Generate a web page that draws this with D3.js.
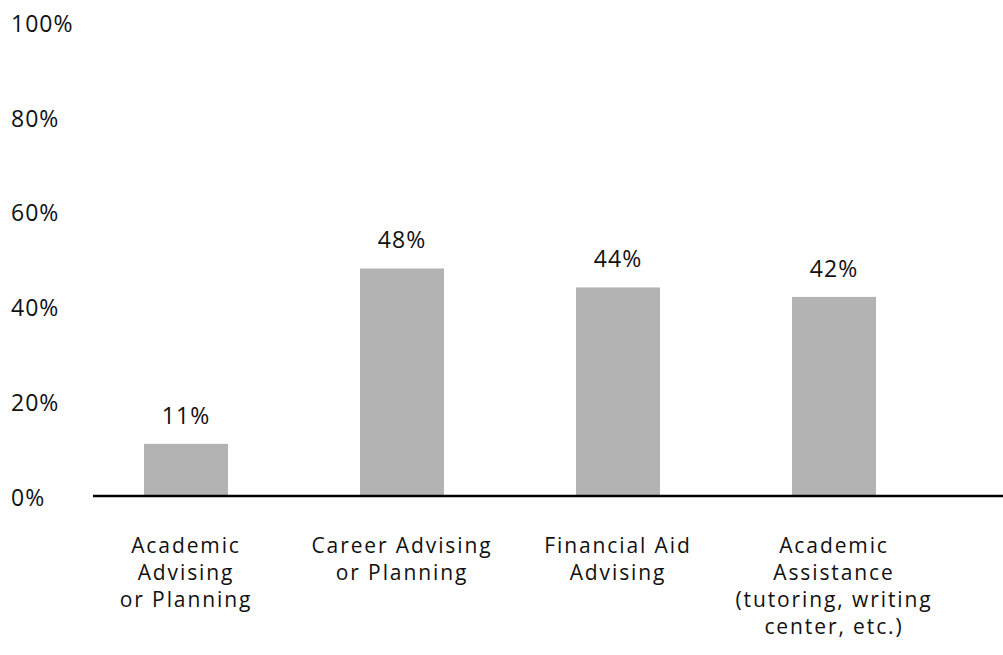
<!DOCTYPE html>
<html>
<head>
<meta charset="utf-8">
<script src="https://cdn.jsdelivr.net/npm/d3@7"></script>
<style>
  html, body { margin: 0; padding: 0; background: #fff; }
  svg text { font-family: "Open Sans", sans-serif; fill: #111; letter-spacing: 1px; }
  svg text.cat { letter-spacing: 1.9px; }
</style>
</head>
<body>
<svg id="chart" width="1003" height="655"></svg>
<script>
// Share of respondents by service type
const categories = [
  ["Academic", "Advising", "or Planning"],
  ["Career Advising", "or Planning"],
  ["Financial Aid", "Advising"],
  ["Academic", "Assistance", "(tutoring, writing", "center, etc.)"]
];
const values = [11, 48, 44, 42];
const tickValues = [0, 20, 40, 60, 80, 100];

const svg = d3.select("#chart");
const W = 1003, H = 655;
const fontSize = 23;
const catFontSize = 21;
const fontFamily = "'Open Sans', sans-serif";

const keys = categories.map((c, i) => i);
const x = d3.scaleBand()
  .domain(keys)
  .range([78, 942])
  .paddingInner(0.611)
  .paddingOuter(0.3055);

const y = d3.scaleLinear().domain([0, 100]).range([496, 22]);

// y-axis labels (no axis line, no ticks)
const yAxis = d3.axisLeft(y)
  .tickValues(tickValues)
  .tickFormat(d => d + "%")
  .tickSize(0)
  .tickPadding(0);
const gy = svg.append("g").attr("transform", "translate(11,2)").call(yAxis);
gy.select(".domain").remove();
gy.selectAll("text")
  .attr("text-anchor", "start")
  .attr("x", 0)
  .style("font-size", fontSize + "px")
  .style("font-family", fontFamily)
  .attr("fill", "#111");

// bars
svg.append("g").selectAll("rect")
  .data(values)
  .join("rect")
  .attr("x", (d, i) => x(i))
  .attr("width", x.bandwidth())
  .attr("y", d => y(d))
  .attr("height", d => y(0) - y(d))
  .attr("fill", "#b3b3b3");

// value labels
svg.append("g").selectAll("text")
  .data(values)
  .join("text")
  .attr("x", (d, i) => x(i) + x.bandwidth() / 2)
  .attr("y", d => y(d) - 20)
  .attr("text-anchor", "middle")
  .style("font-size", fontSize + "px")
  .text(d => d + "%");

// baseline
svg.append("line")
  .attr("x1", 93).attr("x2", W)
  .attr("y1", y(0)).attr("y2", y(0))
  .attr("stroke", "#000")
  .attr("stroke-width", 2.5);

// category labels
const xAxis = d3.axisBottom(x).tickSize(0).tickFormat("");
const gx = svg.append("g").attr("transform", `translate(0,${y(0)})`).call(xAxis);
gx.select(".domain").remove();
gx.selectAll(".tick").each(function(i) {
  const t = d3.select(this).append("text")
    .attr("class", "cat")
    .attr("text-anchor", "middle")
    .attr("y", 57)
    .style("font-size", catFontSize + "px");
  categories[i].forEach((line, k) => {
    t.append("tspan").attr("x", 0).attr("dy", k === 0 ? 0 : 27).text(line);
  });
});
</script>
</body>
</html>
